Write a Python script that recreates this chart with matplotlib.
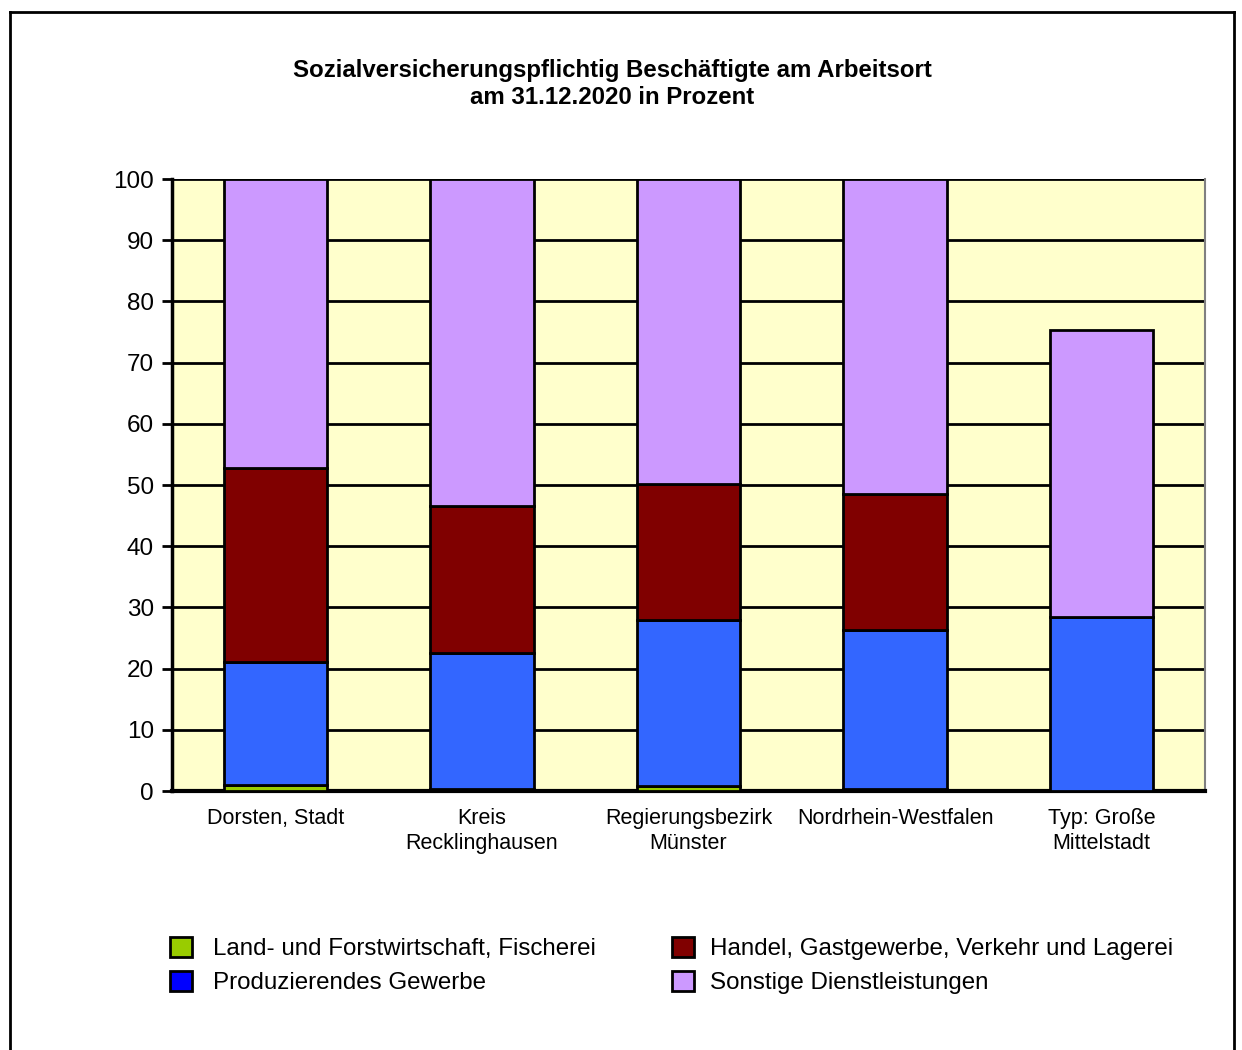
import matplotlib.pyplot as plt
from matplotlib.patches import Patch
from matplotlib.lines import Line2D

plt.rcParams['font.family'] = ['Liberation Sans', 'DejaVu Sans']

# Data (percent)
categories = ["Dorsten, Stadt", "Kreis\nRecklinghausen", "Regierungsbezirk\nMünster",
              "Nordrhein-Westfalen", "Typ: Große\nMittelstadt"]
land = [0.9, 0.3, 0.8, 0.4, 0.0]
produzierend = [20.1, 22.3, 27.1, 25.9, 28.5]
handel = [31.8, 24.0, 22.2, 22.3, 0.0]
sonstige = [47.2, 53.4, 49.9, 51.4, 46.9]

series_names = ["Land- und Forstwirtschaft, Fischerei", "Produzierendes Gewerbe",
                "Handel, Gastgewerbe, Verkehr und Lagerei", "Sonstige Dienstleistungen"]
bar_colors = ["#99CC00", "#3366FF", "#800000", "#CC99FF"]
legend_colors = ["#99CC00", "#0000FF", "#800000", "#CC99FF"]

W, H = 1242, 1050
fig = plt.figure(figsize=(W / 100, H / 100), dpi=100)
ax = fig.add_axes([172 / W, 1 - 791 / H, (1205 - 172) / W, (791 - 179) / H])
ax.set_facecolor("#FFFFCC")

x = list(range(len(categories)))
bottom = [0.0] * len(categories)
for vals, col in zip([land, produzierend, handel, sonstige], bar_colors):
    ax.bar(x, vals, width=0.5, bottom=bottom, color=col, edgecolor="black",
           linewidth=2, zorder=3)
    bottom = [b + v for b, v in zip(bottom, vals)]

ax.set_xlim(-0.5, len(categories) - 0.5)
ax.set_ylim(0, 100)
ax.set_yticks(range(0, 101, 10))
ax.yaxis.grid(True, color="black", linewidth=2)
ax.set_axisbelow(True)
ax.set_xticks(x)
ax.set_xticklabels(categories, fontsize=15.5, linespacing=1.25)
ax.tick_params(axis="x", length=0, pad=12)
ax.tick_params(axis="y", length=7, width=2, labelsize=17.5, pad=6)
ax.spines["top"].set_visible(False)
ax.spines["left"].set_linewidth(2.5)
ax.spines["bottom"].set_linewidth(3)
ax.spines["right"].set_color("#808080")
ax.spines["right"].set_linewidth(1.5)

fig.text(612 / W, 1 - 70 / H, "Sozialversicherungspflichtig Beschäftigte am Arbeitsort",
         ha="center", va="center", fontsize=17.3, fontweight="bold")
fig.text(612 / W, 1 - 97 / H, "am 31.12.2020 in Prozent",
         ha="center", va="center", fontsize=17.3, fontweight="bold")

# Legend in two columns
handles = [Patch(facecolor=c, edgecolor="black", linewidth=2) for c in legend_colors]
leg_kw = dict(loc="upper left", frameon=False, fontsize=17.4, borderpad=0,
              handlelength=0.92, handleheight=0.9, labelspacing=0.44)
fig.legend(handles[:2], series_names[:2], bbox_to_anchor=(158 / W, 1 - 925 / H),
           handletextpad=0.85, **leg_kw)
fig.legend(handles[2:], series_names[2:], bbox_to_anchor=(660 / W, 1 - 925 / H),
           handletextpad=0.65, **leg_kw)

# Outer frame (bottom edge lies below the image)
fx0, fx1, fy1 = 10 / W, 1234 / W, 1 - 12 / H
for xs, ys in [([fx0, fx0], [0, fy1]), ([fx0, fx1], [fy1, fy1]), ([fx1, fx1], [fy1, 0])]:
    fig.add_artist(Line2D(xs, ys, color="black", linewidth=2, transform=fig.transFigure))

fig.savefig("out.png", dpi=100)
plt.close(fig)
